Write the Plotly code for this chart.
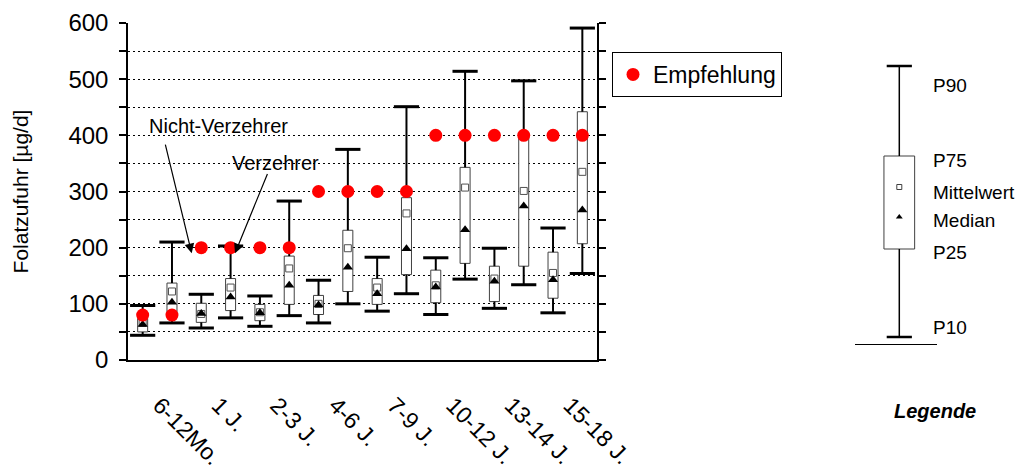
import plotly.graph_objects as go

# ---------------- data ----------------
age_groups = ["6-12Mo.", "1 J.", "2-3 J.", "4-6 J.", "7-9 J.", "10-12 J.", "13-14 J.", "15-18 J."]
consumer_groups = ["Nicht-Verzehrer", "Verzehrer"]   # two boxes per age group, in this order

p10    = [44, 66, 57, 75, 60, 79, 66, 100, 87, 118, 81, 144, 92, 134, 84, 154]
p25    = [50, 76, 67, 88, 70, 99, 81, 122, 99, 152, 102, 172, 104, 167, 110, 207]
median = [63, 103, 83, 112, 84, 133, 98, 165, 118, 198, 130, 232, 140, 274, 143, 267]
mean   = [66, 122, 82, 129, 85, 163, 100, 199, 129, 261, 133, 307, 145, 301, 155, 335]
p75    = [74, 137, 101, 145, 99, 185, 115, 231, 145, 289, 160, 343, 167, 398, 192, 442]
p90    = [97, 210, 117, 203, 114, 283, 142, 375, 183, 451, 182, 514, 199, 497, 235, 591]
empfehlung = [80, 80, 200, 200, 200, 200, 300, 300, 300, 300, 400, 400, 400, 400, 400, 400]

# schematic key ("Legende"): P10, P25, Median, Mittelwert, P75, P90
key_p10, key_p25, key_median, key_mean, key_p75, key_p90 = 7, 95, 127, 157, 188, 278
key_labels = ["P90", "P75", "Mittelwert", "Median", "P25", "P10"]

# ---------------- layout geometry ----------------
W, H = 1019, 471
ML, MR, MT, MB = 128, 3, 23, 111
PW = W - ML - MR
PH = H - MT - MB
FONT = "Liberation Sans, Arial, sans-serif"

def paper_x(px):
    return (px - ML) / PW

def paper_y(py):
    return (H - MB - py) / PH

n = len(p10)
xs = list(range(n))
per_group = len(consumer_groups)
plot_right = 597
slot = (plot_right - ML) / n          # px per box slot

# one label per age group, at the centre of its pair of boxes
tickvals = [k * per_group + (per_group - 1) / 2 + 0.08 for k in range(len(age_groups))]

fig = go.Figure()

# boxes (P25..P75)
fig.add_trace(go.Bar(
    x=xs, y=[b - a for a, b in zip(p25, p75)], base=p25, width=10 / slot,
    marker=dict(color="white", line=dict(color="#404040", width=1)),
    showlegend=False, hoverinfo="skip"))

# whiskers
wx, wy = [], []
for i in xs:
    wx += [i, i, None, i, i, None]
    wy += [p75[i], p90[i], None, p25[i], p10[i], None]
fig.add_trace(go.Scatter(x=wx, y=wy, mode="lines", line=dict(color="black", width=2),
                         showlegend=False, hoverinfo="skip"))
# whisker caps
fig.add_trace(go.Scatter(x=xs + xs, y=p90 + p10, mode="markers",
                         marker=dict(symbol="line-ew", size=18, line=dict(color="black", width=3)),
                         showlegend=False, hoverinfo="skip"))
# mean
fig.add_trace(go.Scatter(x=xs, y=mean, mode="markers",
                         marker=dict(symbol="square", size=7, color="white",
                                     line=dict(color="#505050", width=1)),
                         showlegend=False, name="Mittelwert"))
# median
fig.add_trace(go.Scatter(x=xs, y=median, mode="markers",
                         marker=dict(symbol="triangle-up", size=9, color="black"),
                         showlegend=False, name="Median"))
# recommendation
fig.add_trace(go.Scatter(x=xs, y=empfehlung, mode="markers", name="Empfehlung",
                         marker=dict(symbol="circle", size=13, color="#FF0000")))

# ---------------- key subplot ----------------
kw = 30.7
fig.add_trace(go.Bar(x=[0], y=[key_p75 - key_p25], base=[key_p25], width=kw,
                     xaxis="x2", yaxis="y2",
                     marker=dict(color="white", line=dict(color="#404040", width=1)),
                     showlegend=False, hoverinfo="skip"))
fig.add_trace(go.Scatter(x=[0, 0, None, 0, 0], y=[key_p75, key_p90, None, key_p25, key_p10],
                         mode="lines", line=dict(color="black", width=1.5),
                         xaxis="x2", yaxis="y2", showlegend=False, hoverinfo="skip"))
fig.add_trace(go.Scatter(x=[0, 0], y=[key_p90, key_p10], mode="markers",
                         marker=dict(symbol="line-ew", size=18, line=dict(color="black", width=2.5)),
                         xaxis="x2", yaxis="y2", showlegend=False, hoverinfo="skip"))
fig.add_trace(go.Scatter(x=[0], y=[key_mean], mode="markers",
                         marker=dict(symbol="square", size=5, color="white",
                                     line=dict(color="#404040", width=1)),
                         xaxis="x2", yaxis="y2", showlegend=False, hoverinfo="skip"))
fig.add_trace(go.Scatter(x=[0], y=[key_median], mode="markers",
                         marker=dict(symbol="triangle-up", size=6, color="black"),
                         xaxis="x2", yaxis="y2", showlegend=False, hoverinfo="skip"))

key_label_y = [key_p90 - 19, key_p75 - 4, key_mean - 5, key_median - 3, key_p25 - 3, key_p10 + 10]
annotations = []
for lab, yv in zip(key_labels, key_label_y):
    annotations.append(dict(x=31.5, y=yv, xref="x2", yref="y2", text=lab, showarrow=False,
                            xanchor="left", yanchor="middle", font=dict(size=19, color="black")))
annotations.append(dict(x=paper_x(935), y=paper_y(411), xref="paper", yref="paper",
                        text="<b><i>Legende</i></b>", showarrow=False,
                        xanchor="center", yanchor="middle", font=dict(size=20, color="black")))

# pointer annotations
annotations.append(dict(x=0.148, y=416, xref="x", yref="y", text=consumer_groups[0],
                        showarrow=False, xanchor="left", yanchor="middle",
                        font=dict(size=20, color="black")))
annotations.append(dict(x=2.98, y=350, xref="x", yref="y", text=consumer_groups[1],
                        showarrow=False, xanchor="left", yanchor="middle",
                        font=dict(size=20, color="black")))
annotations.append(dict(x=1.673, y=190, ax=0.762, ay=386, xref="x", yref="y",
                        axref="x", ayref="y", text="", showarrow=True,
                        arrowhead=2, arrowsize=1.6, arrowwidth=1.2, arrowcolor="black"))
annotations.append(dict(x=3.15, y=190, ax=4.277, ay=334, xref="x", yref="y",
                        axref="x", ayref="y", text="", showarrow=True,
                        arrowhead=2, arrowsize=1.6, arrowwidth=1.2, arrowcolor="black"))

grid = dict(showgrid=True, gridcolor="black", griddash="2px,3px", gridwidth=1.3)

fig.update_layout(
    width=W, height=H,
    margin=dict(l=ML, r=MR, t=MT, b=MB, autoexpand=False),
    paper_bgcolor="white", plot_bgcolor="white",
    font=dict(family=FONT, color="black"),
    showlegend=True,
    legend=dict(x=paper_x(612), y=paper_y(52), xanchor="left", yanchor="top",
                bordercolor="black", borderwidth=1, bgcolor="white",
                font=dict(size=23), itemwidth=30),
    xaxis=dict(domain=[0, paper_x(plot_right)], range=[-0.5, n - 0.5],
               showline=True, linecolor="black", linewidth=1.5,
               ticks="", tickvals=tickvals, ticktext=age_groups, tickangle=45,
               tickfont=dict(size=23), ticklabelstandoff=21,
               showgrid=False, zeroline=False, anchor="y"),
    yaxis=dict(domain=[0, 1], range=[0, 600], tick0=0, dtick=100,
               ticks="outside", ticklen=7, tickwidth=1.5, tickcolor="black",
               showline=True, linecolor="black", linewidth=1.5, mirror="allticks",
               tickfont=dict(size=24), ticklabelstandoff=6,
               minor=dict(dtick=50, ticks="outside", ticklen=7, tickwidth=1.5,
                          tickcolor="black", **grid),
               title=dict(text="Folatzufuhr [µg/d]", font=dict(size=21), standoff=34),
               zeroline=False, anchor="x", **grid),
    xaxis2=dict(domain=[paper_x(855), paper_x(937)], range=[-44.3, 37.7], anchor="y2",
                showline=True, linecolor="black", linewidth=1, ticks="",
                showticklabels=False, showgrid=False, zeroline=False),
    yaxis2=dict(domain=[paper_y(344), paper_y(50)], range=[0, 294], anchor="x2",
                visible=False),
    annotations=annotations,
)

fig.write_html("out.html", config={"displayModeBar": False},
               post_script="document.body.style.margin='0';document.body.style.overflow='hidden';")
